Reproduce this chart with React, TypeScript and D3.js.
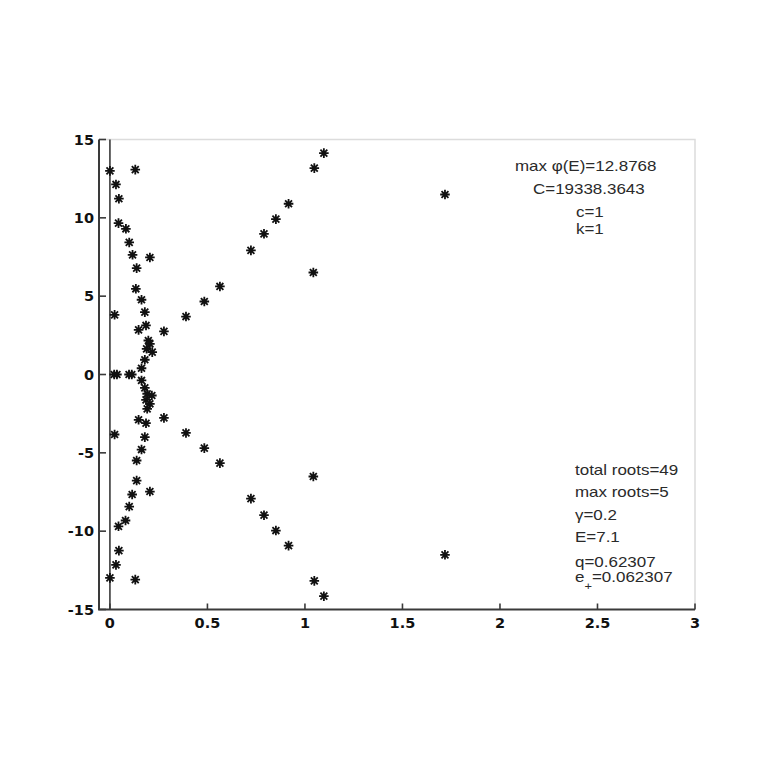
import React from 'react';
import * as d3 from 'd3';

// roots in the complex plane: [re, im]
const innerBranch: [number, number][] = [
  [0, 13.0], [0.13, 13.08], [0.031, 12.13], [0.046, 11.22], [0.044, 9.66], [0.082, 9.3],
  [0.099, 8.43], [0.116, 7.64], [0.205, 7.47], [0.137, 6.79], [0.133, 5.47], [0.162, 4.77],
  [0.179, 3.98], [0.024, 3.81], [0.185, 3.13], [0.147, 2.85], [0.197, 2.17], [0.205, 1.96],
  [0.188, 1.64], [0.217, 1.43], [0.179, 0.94], [0.162, 0.4],
  [0.162, -0.38], [0.179, -0.85], [0.191, -1.23], [0.215, -1.34], [0.185, -1.62], [0.205, -1.87],
  [0.191, -2.19], [0.147, -2.89], [0.185, -3.11], [0.024, -3.83], [0.179, -4.0], [0.162, -4.79],
  [0.137, -5.49], [0.137, -6.77], [0.114, -7.66], [0.205, -7.47], [0.099, -8.43], [0.08, -9.32],
  [0.044, -9.69], [0.046, -11.24], [0.031, -12.15], [0, -12.98], [0.13, -13.09],
];
const outerBranch: [number, number][] = [
  [0.277, 2.75], [0.39, 3.7], [0.484, 4.66], [0.564, 5.62], [0.723, 7.92], [0.79, 8.98],
  [0.851, 9.92], [0.916, 10.9], [1.048, 13.17], [1.097, 14.13],
  [0.277, -2.77], [0.39, -3.73], [0.484, -4.7], [0.564, -5.66], [0.723, -7.92], [0.79, -8.98],
  [0.851, -9.96], [0.916, -10.92], [1.048, -13.17], [1.097, -14.15],
];
const strayRoots: [number, number][] = [
  [1.043, 6.51], [1.718, 11.49], [1.043, -6.51], [1.718, -11.51],
];
const axisRoots: [number, number][] = [
  [0.022, 0], [0.036, 0], [0.098, 0], [0.112, 0],
];

const xTicks = [0, 0.5, 1, 1.5, 2, 2.5, 3];
const yTicks = [-15, -10, -5, 0, 5, 10, 15];

const topNotes = ['max φ(E)=12.8768', 'C=19338.3643', 'c=1', 'k=1'];
const bottomNotes = ['total roots=49', 'max roots=5', 'γ=0.2', 'E=7.1', 'q=0.62307'];

const W = 768;
const H = 768;
const plot = { left: 99, right: 695, top: 139.5, bottom: 609.5 };

const x = d3.scaleLinear().domain([-0.056, 3]).range([plot.left, plot.right]);
const y = d3.scaleLinear().domain([-15, 15]).range([plot.bottom, plot.top]);

const star = (r: number) => {
  const d = r * 0.72;
  return `M${-r},0L${r},0M0,${-r}L0,${r}M${-d},${-d}L${d},${d}M${-d},${d}L${d},${-d}`;
};

export default function App() {
  const roots = [...innerBranch, ...outerBranch, ...strayRoots, ...axisRoots];
  const axisColor = '#3a3a3a';
  const tickFont = { fontFamily: 'DejaVu Sans, Verdana, sans-serif', fontWeight: 700, fontSize: 14.5, fill: '#111' };
  const noteFont = { fontFamily: 'Liberation Sans, Arial, sans-serif', fontSize: 14.5, fill: '#2a2a2a' };
  const topX = [515, 533, 576, 576];
  const topY = [171, 194, 217, 234];
  const botY = [475, 497, 520, 542, 567];

  return (
    <svg width={W} height={H} style={{ position: 'absolute', left: 0, top: 0, background: '#fff' }}>
      {/* light frame on top/right */}
      <path d={`M${plot.left},${plot.top}H${plot.right}V${plot.bottom}`} fill="none" stroke="#dcdcdc" strokeWidth={1.5} />
      {/* x = 0 line */}
      <line x1={x(0)} x2={x(0)} y1={plot.top} y2={plot.bottom} stroke={axisColor} strokeWidth={1.6} />
      {/* axes */}
      <path d={`M${plot.left},${plot.top}V${plot.bottom}H${plot.right}`} fill="none" stroke={axisColor} strokeWidth={2} />
      {xTicks.map(t => (
        <g key={'x' + t}>
          <line x1={x(t)} x2={x(t)} y1={plot.bottom} y2={plot.bottom - 6} stroke={axisColor} strokeWidth={1.6} />
          <text x={x(t)} y={628} textAnchor="middle" {...tickFont}>{t}</text>
        </g>
      ))}
      {yTicks.map(t => (
        <g key={'y' + t}>
          <line x1={plot.left} x2={plot.left + 7} y1={y(t)} y2={y(t)} stroke={axisColor} strokeWidth={1.6} />
          <text x={94} y={y(t) + 5} textAnchor="end" {...tickFont}>{t}</text>
        </g>
      ))}
      {roots.map(([re, im], i) => (
        <path key={i} transform={`translate(${x(re)},${y(im)})`} d={star(4.8)}
          stroke="#111" strokeWidth={1.8} fill="none" />
      ))}
      {topNotes.map((s, i) => (
        <text key={s} transform={`translate(${topX[i]},${topY[i]}) scale(1.17,1)`} {...noteFont}>{s}</text>
      ))}
      {bottomNotes.map((s, i) => (
        <text key={s} transform={`translate(575,${botY[i]}) scale(1.17,1)`} {...noteFont}>{s}</text>
      ))}
      <text transform="translate(575,582) scale(1.17,1)" {...noteFont}>
        e<tspan fontSize={11} dy={8}>+</tspan><tspan dy={-8}>=0.062307</tspan>
      </text>
    </svg>
  );
}
